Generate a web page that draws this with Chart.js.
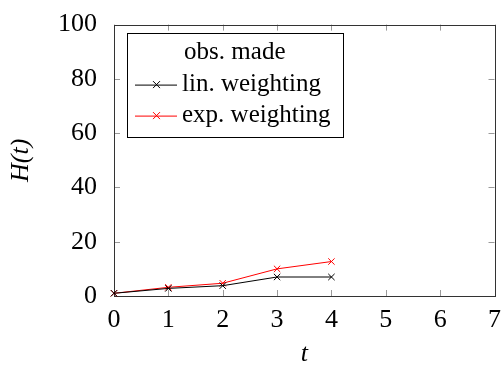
<!DOCTYPE html>
<html>
<head>
<meta charset="utf-8">
<script src="https://cdn.jsdelivr.net/npm/chart.js@4"></script>
<style>
  html, body { margin: 0; padding: 0; background: #fff; }
  #wrap { width: 502px; height: 367px; }
</style>
</head>
<body>
<div id="wrap"><canvas id="chart"></canvas></div>
<script>
var tValues = [0, 1, 2, 3, 4];
var linWeighting = [1, 2.8, 3.8, 7, 7];
var expWeighting = [1, 3.2, 4.7, 10, 12.7];
var xTicks = [0, 1, 2, 3, 4, 5, 6, 7];
var yTicks = [0, 20, 40, 60, 80, 100];
var legendTitle = 'obs. made';
var seriesNames = ['lin. weighting', 'exp. weighting'];
var seriesColors = ['#000000', '#ff0000'];

var serif = "'Liberation Serif', 'DejaVu Serif', serif";

function points(ys) {
  return tValues.map(function (t, i) { return { x: t, y: ys[i] }; });
}

// box around the plot + inward tick marks on all four sides
var framePlugin = {
  id: 'frame',
  beforeDatasetsDraw: function (chart) {
    var ctx = chart.ctx, a = chart.chartArea;
    var xs = chart.scales.x, ys = chart.scales.y;
    ctx.save();
    ctx.strokeStyle = '#9a9a9a';
    ctx.lineWidth = 1;
    ctx.beginPath();
    xTicks.forEach(function (v) {
      var px = Math.round(xs.getPixelForValue(v)) + 0.5;
      ctx.moveTo(px, a.bottom); ctx.lineTo(px, a.bottom - 6);
      ctx.moveTo(px, a.top); ctx.lineTo(px, a.top + 6);
    });
    yTicks.forEach(function (v) {
      var py = Math.round(ys.getPixelForValue(v)) + 0.5;
      ctx.moveTo(a.left, py); ctx.lineTo(a.left + 6, py);
      ctx.moveTo(a.right, py); ctx.lineTo(a.right - 6, py);
    });
    ctx.stroke();
    ctx.strokeStyle = '#333';
    ctx.strokeRect(Math.round(a.left) + 0.5, Math.round(a.top) + 0.5,
      Math.round(a.right - a.left), Math.round(a.bottom - a.top));
    ctx.restore();
  }
};

// pgfplots-like legend box with a title, top left inside the plot
var legendPlugin = {
  id: 'boxLegend',
  afterDraw: function (chart) {
    var ctx = chart.ctx, a = chart.chartArea;
    ctx.save();
    ctx.font = '25px ' + serif;
    var maxW = ctx.measureText(legendTitle).width;
    seriesNames.forEach(function (n) { maxW = Math.max(maxW, ctx.measureText(n).width); });
    var left = a.left + 13, top = a.top + 8;
    var textX = left + 55;
    var w = 55 + maxW + 12, h = 104;
    ctx.fillStyle = '#fff';
    ctx.fillRect(left, top, w, h);
    ctx.strokeStyle = '#000';
    ctx.lineWidth = 1;
    ctx.strokeRect(Math.round(left) + 0.5, Math.round(top) + 0.5, Math.round(w), Math.round(h));
    ctx.fillStyle = '#000';
    ctx.textBaseline = 'middle';
    ctx.textAlign = 'center';
    ctx.fillText(legendTitle, left + w / 2, top + 20);
    ctx.textAlign = 'left';
    seriesNames.forEach(function (n, i) {
      var cy = top + 52 + i * 31;
      ctx.strokeStyle = seriesColors[i];
      ctx.beginPath();
      ctx.moveTo(left + 8, cy + 0.5); ctx.lineTo(left + 50, cy + 0.5);
      ctx.moveTo(left + 26, cy - 3.5); ctx.lineTo(left + 33, cy + 3.5);
      ctx.moveTo(left + 26, cy + 3.5); ctx.lineTo(left + 33, cy - 3.5);
      ctx.stroke();
      ctx.fillStyle = '#000';
      ctx.fillText(n, textX, cy);
    });
    ctx.restore();
  }
};

new Chart('chart', {
  type: 'line',
  data: {
    datasets: [
      {
        label: seriesNames[0],
        data: points(linWeighting),
        borderColor: seriesColors[0],
        backgroundColor: seriesColors[0],
        borderWidth: 1,
        pointStyle: 'crossRot',
        pointRadius: 4.5,
        pointBorderWidth: 1,
        clip: false
      },
      {
        label: seriesNames[1],
        data: points(expWeighting),
        borderColor: seriesColors[1],
        backgroundColor: seriesColors[1],
        borderWidth: 1,
        pointStyle: 'crossRot',
        pointRadius: 4.5,
        pointBorderWidth: 1,
        clip: false
      }
    ]
  },
  options: {
    responsive: true,
    maintainAspectRatio: false,
    animation: false,
    layout: { padding: { top: 22, right: 4, left: 0, bottom: 0 } },
    plugins: {
      legend: { display: false },
      tooltip: { enabled: false }
    },
    scales: {
      x: {
        type: 'linear',
        min: 0,
        max: 7,
        afterFit: function (s) { s.height = 71; },
        afterBuildTicks: function (s) { s.ticks = xTicks.map(function (v) { return { value: v }; }); },
        grid: { display: false },
        border: { display: false },
        ticks: { color: '#000', padding: 1, font: { family: serif, size: 26 } },
        title: {
          display: true,
          text: 't',
          color: '#000',
          padding: { top: 0, bottom: 0 },
          font: { family: serif, size: 26, style: 'italic', lineHeight: 1 }
        }
      },
      y: {
        min: 0,
        max: 100,
        afterFit: function (s) { s.width = 114; },
        afterBuildTicks: function (s) { s.ticks = yTicks.map(function (v) { return { value: v }; }); },
        grid: { display: false },
        border: { display: false },
        ticks: { color: '#000', padding: 9, font: { family: serif, size: 26 } },
        title: {
          display: true,
          text: 'H(t)',
          color: '#000',
          padding: { top: 6, bottom: 0 },
          font: { family: serif, size: 26, style: 'italic' }
        }
      }
    }
  },
  plugins: [framePlugin, legendPlugin]
});
</script>
</body>
</html>
